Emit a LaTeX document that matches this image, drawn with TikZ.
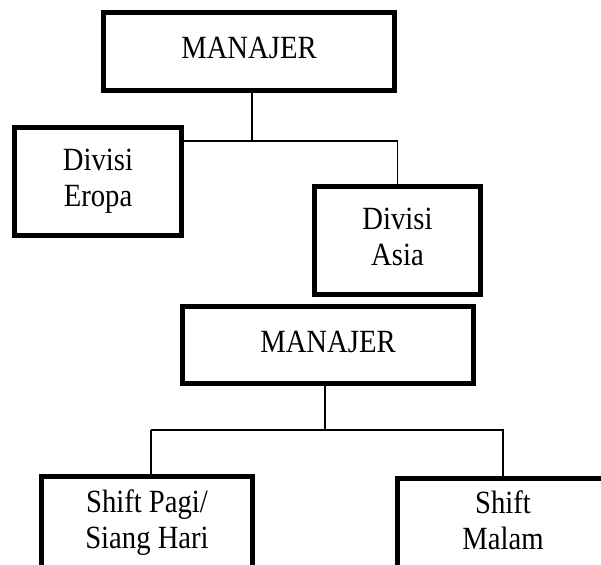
\documentclass[tikz,border=0pt]{standalone}
\usepackage{graphicx}
\usepackage{fontspec}
\setmainfont{Liberation Serif}
\newcommand\vtxt[1]{\scalebox{1}[1.13]{\begin{tabular}{@{}c@{}}#1\end{tabular}}}
\begin{document}
\begin{tikzpicture}[x=0.75pt,y=-0.75pt,
  box/.style={draw=black,line width=3.75pt,rectangle,inner sep=0pt,align=center,
    font=\fontsize{21.5}{24}\selectfont},
  conn/.style={draw=black,line width=1pt}]
\useasboundingbox (0,0) rectangle (601,565);
\begin{scope}
\clip (0,0) rectangle (601,565);
\node[box,minimum width=218.25pt,minimum height=58.5pt] (top) at (249,51.5) {\vtxt{MANAJER}};
\node[box,minimum width=125.25pt,minimum height=81pt] (eropa) at (98,181.5) {\vtxt{Divisi\\Eropa}};
\node[box,minimum width=124.5pt,minimum height=81pt] (asia) at (397.5,240.5) {\vtxt{Divisi\\Asia}};
\node[box,minimum width=218.25pt,minimum height=57.75pt] (mgr) at (328,345) {\vtxt{MANAJER}};
\node[box,minimum width=158.25pt,minimum height=69.75pt] (pagi) at (147,523) {\vtxt{Shift Pagi/\\Siang Hari}};
\node[box,minimum width=158.25pt,minimum height=68.25pt] (malam) at (503,524) {\vtxt{Shift\\Malam}};
\coordinate (j) at (252,141);
\coordinate (k) at (325,430);
\coordinate (pl) at (151,474);
\draw[conn] (top.south -| j) -- (j);
\draw[conn] (eropa.east |- j) -- (asia.north |- j) -- (asia.north);
\draw[conn] (mgr.south -| k) -- (k);
\draw[conn] (pl |- k) -- (malam.north |- k) -- (malam.north);
\draw[conn] (pl |- k) -- (pl);
\end{scope}
\end{tikzpicture}
\end{document}
